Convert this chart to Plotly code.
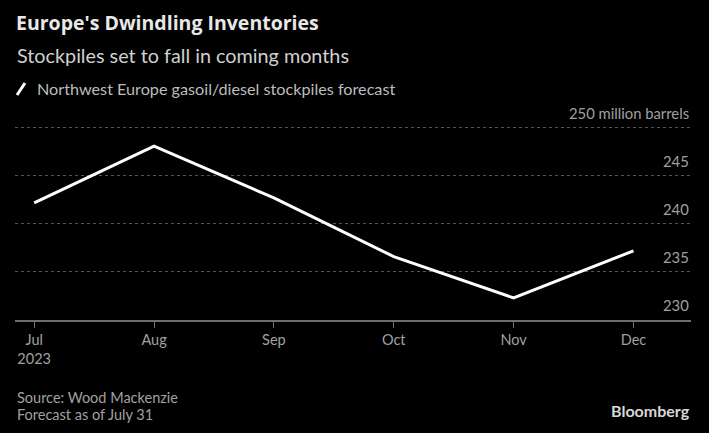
import plotly.graph_objects as go

months = ["Jul<br>2023", "Aug", "Sep", "Oct", "Nov", "Dec"]
stockpiles = [242.2, 248.1, 242.7, 236.6, 232.3, 237.2]
y_ticks = [230, 235, 240, 245, 250]
y_tick_text = ["230", "235", "240", "245", "250 million barrels"]

W, H = 709, 433
L, R, T, B = 15, 18, 99, 113
FONT = "Lato"

def px(x):
    return (x - L) / (W - L - R)

def py(y):
    return (H - B - y) / (H - T - B)

fig = go.Figure()
fig.add_trace(go.Scatter(x=months, y=stockpiles, mode="lines",
                         line=dict(color="white", width=3),
                         name="Northwest Europe gasoil/diesel stockpiles forecast",
                         showlegend=False, hoverinfo="skip"))

fig.update_layout(
    width=W, height=H,
    margin=dict(l=L, r=R, t=T, b=B),
    paper_bgcolor="black", plot_bgcolor="black",
    font=dict(family=FONT, color="#9a9a9a", size=14),
    xaxis=dict(type="category", range=[-0.16, 5.48], showgrid=False,
               showline=True, linecolor="#6e6e6e", linewidth=2,
               ticks="outside", ticklen=6, tickcolor="#6e6e6e", tickwidth=1,
               tickfont=dict(color="#a0a0a0", size=14.5), fixedrange=True),
    yaxis=dict(range=[230, 253], side="right", tickvals=y_ticks,
               showticklabels=False,
               showgrid=True, gridcolor="#555555", griddash="dot", gridwidth=1,
               zeroline=False, showline=False, ticks="", fixedrange=True),
)

# y tick labels sit just above their gridlines, flush right
for v, t in zip(y_ticks, y_tick_text):
    fig.add_annotation(text=t, xref="paper", yref="y", x=1, y=v,
                       xanchor="right", yanchor="middle", yshift=15,
                       showarrow=False, font=dict(size=14.8, color="#a0a0a0"))

ann = [
    dict(text="<b>Europe's Dwindling Inventories</b>", x=px(14), y=py(23),
         font=dict(size=19.5, color="#e8e8e8", family="Open Sans")),
    dict(text="Stockpiles set to fall in coming months", x=px(15), y=py(55),
         font=dict(size=19.8, color="#d0d0d0")),
    dict(text="Northwest Europe gasoil/diesel stockpiles forecast", x=px(35), y=py(89),
         font=dict(size=16.2, color="#bcbcbc")),
    dict(text="Source: Wood Mackenzie", x=px(15), y=py(397),
         font=dict(size=14.5, color="#a0a0a0")),
    dict(text="Forecast as of July 31", x=px(15), y=py(414),
         font=dict(size=14.5, color="#a0a0a0")),
]
for a in ann:
    fig.add_annotation(xref="paper", yref="paper", xanchor="left", yanchor="middle",
                       showarrow=False, **a)
fig.add_annotation(text="<b>Bloomberg</b>", xref="paper", yref="paper",
                   x=px(692), y=py(410), xanchor="right", yanchor="middle",
                   showarrow=False, font=dict(size=16, color="#d8d8d8"))

# legend swatch: a short slanted stroke
fig.add_shape(type="line", xref="paper", yref="paper",
              x0=px(17), y0=py(95), x1=px(25), y1=py(83),
              line=dict(color="white", width=3))

# drop the default page margin so the figure sits at the window's corner
fig.write_html("out.html", config={"displayModeBar": False},
               post_script="document.body.style.margin='0';")
